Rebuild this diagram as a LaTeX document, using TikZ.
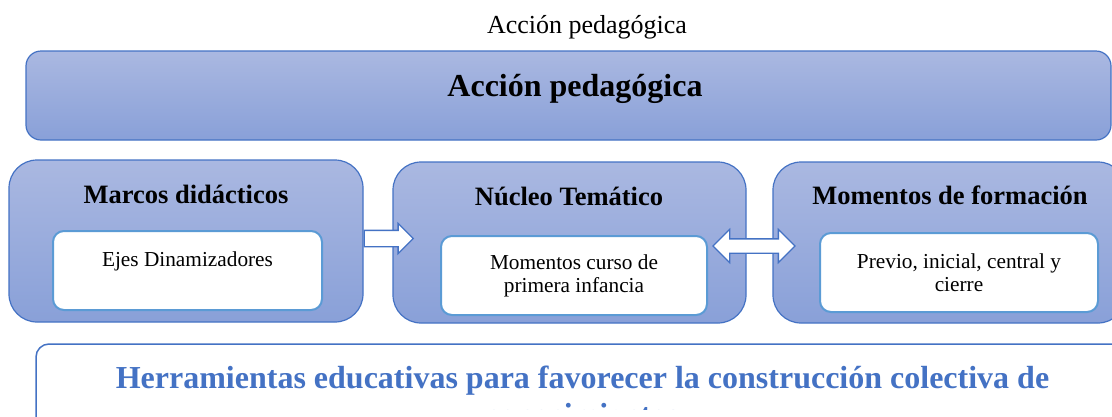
\documentclass[tikz,border=0pt]{standalone}
\usepackage{fontspec}
\setmainfont{Liberation Serif}
\usetikzlibrary{shapes.arrows}
\definecolor{borde}{RGB}{68,114,196}
\definecolor{bordeint}{RGB}{91,155,213}
\definecolor{arriba}{RGB}{170,184,225}
\definecolor{abajo}{RGB}{137,160,216}

\begin{document}
\begin{tikzpicture}[x=1pt,y=-1pt,
  caja/.style={draw=borde,line width=1.2pt,top color=arriba,bottom color=abajo,
    rounded corners=28pt,inner sep=0pt},
  cajaint/.style={draw=bordeint,line width=2pt,fill=white,rounded corners=11pt,
    inner sep=0pt,minimum height=79pt,align=center,font=\fontsize{21.3}{23}\selectfont},
  encabezado/.style={anchor=base,inner sep=0pt,font=\fontsize{26.5}{30}\bfseries},
  flecha/.style={draw=borde,line width=1.3pt,fill=white,inner xsep=0pt,minimum width=0pt}]
  \useasboundingbox (0,0) rectangle (1112,416);
  \clip (0,0) rectangle (1112,416);

  \node[anchor=base,inner sep=0pt,font=\fontsize{26}{30}\selectfont] (titulo) at (587,33) {Acción pedagógica};

  \node[caja,rounded corners=15pt,minimum width=1085pt,minimum height=89pt] (accion) at (568.5,95.5) {};
  \node[anchor=base,inner sep=0pt,font=\fontsize{32}{36}\bfseries] (accionT) at (575,96) {Acción pedagógica};

  \node[caja,minimum width=354pt,minimum height=162pt] (marcos) at (186,241) {};
  \node[caja,minimum width=353pt,minimum height=161pt] (nucleo) at (569.5,242.5) {};
  \node[caja,minimum width=353pt,minimum height=161pt] (momentos) at (949.5,242.5) {};

  \node[encabezado] (marcosT) at (186,203) {Marcos didácticos};
  \node[encabezado] (nucleoT) at (569,205) {Núcleo Temático};
  \node[encabezado] (momentosT) at (950,204) {Momentos de formación};

  \node[cajaint,minimum width=269pt] (ejes) at (187.5,270.5) {Ejes Dinamizadores\\\mbox{}};
  \node[cajaint,minimum width=266pt] (curso) at (574,275.5) {Momentos curso de\\primera infancia};
  \node[cajaint,minimum width=278pt] (previo) at (959,272.5) {Previo, inicial, central y\\cierre};

  \node[flecha,single arrow,single arrow head extend=7pt,minimum height=49pt,
    inner ysep=7.5pt,anchor=west] (f1) at ([yshift=2.5pt]marcos.east) {};
  \node[flecha,double arrow,double arrow head extend=9.5pt,minimum height=82pt,
    inner ysep=6.5pt] (f2) at (754,246) {};

  \node[draw=borde,line width=1.5pt,fill=white,rounded corners=13pt,minimum width=1093pt,
    minimum height=110pt,inner sep=0pt] (herramientas) at (582.5,399) {};
  \begin{scope}
  \clip (0,0) rectangle (1112,409);
  \node[anchor=base,inner sep=0pt,align=center,text=borde,font=\fontsize{32}{37}\bfseries]
    (herramientasT) at (582.5,425) {Herramientas educativas para favorecer la construcción colectiva de\\conocimientos};
  \end{scope}
\end{tikzpicture}
\end{document}
